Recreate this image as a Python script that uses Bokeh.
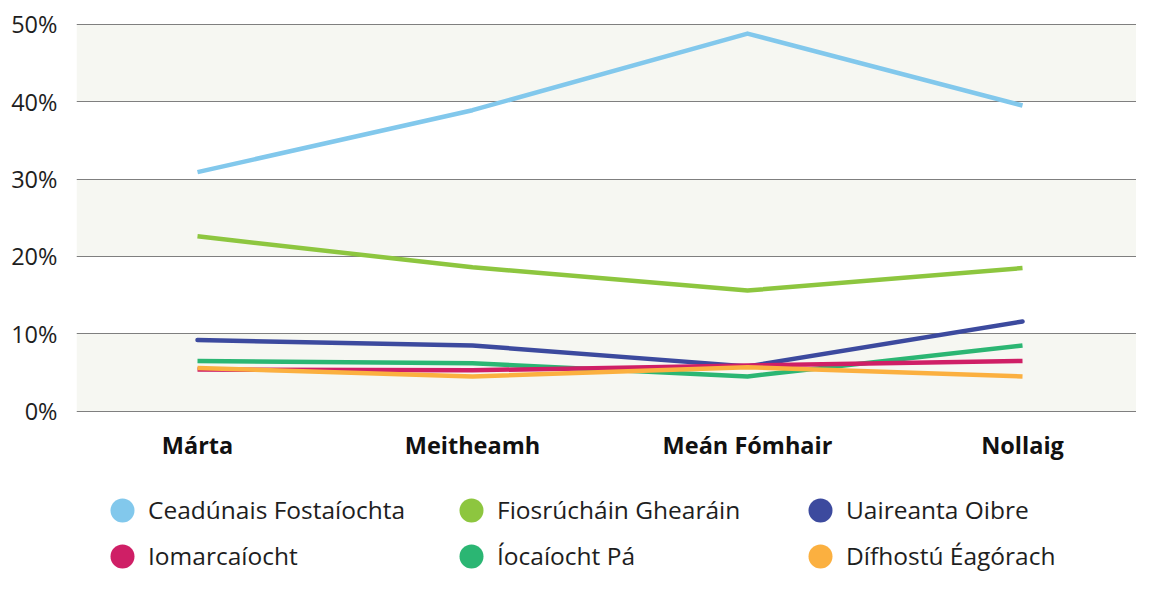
from bokeh.plotting import figure
from bokeh.models import Legend, LegendItem, FixedTicker, PrintfTickFormatter, Range1d
from bokeh.embed import file_html
from bokeh.resources import INLINE

months = ["Márta", "Meitheamh", "Meán Fómhair", "Nollaig"]
x_pos = [0, 1, 2, 3]
ceadunais = [30.9, 38.9, 48.8, 39.5]
fiosruchain = [22.6, 18.6, 15.6, 18.5]
uaireanta = [9.2, 8.5, 5.8, 11.6]
iomarcaiocht = [5.4, 5.3, 5.9, 6.5]
iocaiocht = [6.5, 6.2, 4.5, 8.5]
difhostu = [5.6, 4.5, 5.7, 4.5]
y_ticks = [0, 10, 20, 30, 40, 50]

names = ["Ceadúnais Fostaíochta", "Fiosrúcháin Ghearáin", "Uaireanta Oibre",
         "Iomarcaíocht", "Íocaíocht Pá", "Dífhostú Éagórach"]
series = [ceadunais, fiosruchain, uaireanta, iomarcaiocht, iocaiocht, difhostu]
colors = ["#82c8ec", "#8dc63f", "#3c4a9e", "#cf1f66", "#2bb673", "#fbb040"]
draw_order = [0, 1, 2, 4, 3, 5]

FONT = "Open Sans"
FS = "23.5px"

# frame extends below 0 to host the legend (legends in the centre are clipped to the frame)
p = figure(width=1136, height=574, output_backend="svg", toolbar_location=None,
           x_range=Range1d(-0.44, 3.4145), y_range=Range1d(-21.09, 50.1),
           min_border_left=76, min_border_top=23, min_border_bottom=0, min_border_right=0)
p.outline_line_color = None
p.background_fill_color = "white"
p.border_fill_color = "white"
# range used only by the legend proxy markers (maps them outside the frame)
p.extra_y_ranges = {"legend_proxy": Range1d(1000, 2000)}

# shaded bands 0-10, 20-30, 40-50
p.hstrip(y0=y_ticks[0::2], y1=y_ticks[1::2], fill_color="#f6f7f2",
         line_color=None, level="image")

p.xgrid.visible = False
p.ygrid.ticker = FixedTicker(ticks=y_ticks)
p.ygrid.grid_line_color = "#7f7f7f"
p.ygrid.grid_line_width = 1

p.yaxis.ticker = FixedTicker(ticks=y_ticks)
p.yaxis.formatter = PrintfTickFormatter(format="%d%%")
p.yaxis.axis_line_color = None
p.yaxis.major_tick_line_color = None
p.yaxis.minor_tick_line_color = None
p.yaxis.major_tick_out = 0
p.yaxis.major_tick_in = 0
p.yaxis.major_label_standoff = 19
p.yaxis.major_label_text_font = FONT
p.yaxis.major_label_text_font_size = FS
p.yaxis.major_label_text_color = "#1e1e1e"

p.xaxis.fixed_location = 0
p.xaxis.ticker = FixedTicker(ticks=x_pos)
p.xaxis.major_label_overrides = {x: m for x, m in zip(x_pos, months)}
p.xaxis.axis_line_color = None
p.xaxis.major_tick_line_color = None
p.xaxis.minor_tick_line_color = None
p.xaxis.major_tick_out = 0
p.xaxis.major_tick_in = 0
p.xaxis.major_label_standoff = 18
p.xaxis.major_label_text_font = FONT
p.xaxis.major_label_text_font_style = "bold"
p.xaxis.major_label_text_font_size = FS
p.xaxis.major_label_text_color = "#111111"

for i in draw_order:
    p.line(x_pos, series[i], line_color=colors[i], line_width=4.5,
           line_cap="round" if i == 2 else "butt", line_join="round")

items = []
for i in range(6):
    r = p.ellipse(x_pos, series[i], width=24, height=24,
                  width_units="screen", height_units="screen",
                  fill_color=colors[i], line_color=None, y_range_name="legend_proxy")
    items.append(LegendItem(label=names[i], renderers=[r]))

legend = Legend(items=items, orientation="horizontal", ncols=3,
                glyph_width=30, glyph_height=30, label_height=26, label_width=295,
                label_standoff=11, spacing=13, padding=0, margin=0,
                border_line_alpha=0, background_fill_alpha=0,
                label_text_font=FONT, label_text_font_size="24.5px",
                label_text_color="#1e1e1e", location=(31, 2))
p.add_layout(legend, "center")

open("out.html", "w").write(file_html(p, INLINE))
